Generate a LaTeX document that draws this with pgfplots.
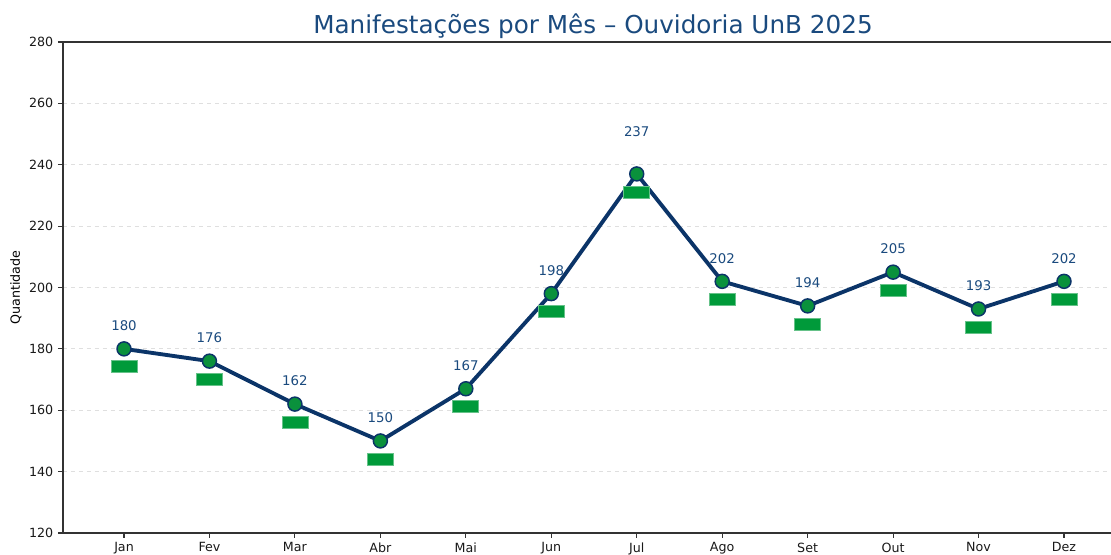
\documentclass[border=0pt]{standalone}
\usepackage{fontspec}
\setmainfont{DejaVu Sans}
\usepackage{pgfplots}
\usepackage{pgfplotstable}
\pgfplotsset{compat=1.18}
\definecolor{navy}{HTML}{0B3468}
\definecolor{ptgreen}{HTML}{0A913C}
\definecolor{boxgreen}{HTML}{009A3A}
\definecolor{ttl}{HTML}{1A4A7E}
% green tag drawn under every point
\pgfdeclareplotmark{gbox}{%
  \pgfpathrectangle{\pgfpoint{-9.75pt}{-18pt}}{\pgfpoint{19.5pt}{9pt}}%
  \pgfusepathqfillstroke}

\pgfplotstableread{
x y ly
0 180 187.5
1 176 183.5
2 162 169.5
3 150 157.5
4 167 174.5
5 198 205.5
6 237 250.7
7 202 209.5
8 194 201.5
9 205 212.5
10 193 200.5
11 202 209.5
}\dados

\begin{document}
\begin{tikzpicture}
\begin{axis}[
  scale only axis,
  width=786pt, height=368.25pt,
  xmin=-0.714, xmax=11.55,
  ymin=120, ymax=280,
  axis lines=left,
  axis line style={-, black!80, line width=0.8pt},
  tick align=outside,
  major tick length=3.75pt,
  tick style={black!80, line width=0.8pt},
  xtick={0,...,11},
  xticklabels={Jan,Fev,Mar,Abr,Mai,Jun,Jul,Ago,Set,Out,Nov,Dez},
  ytick={120,140,...,280},
  ymajorgrids,
  grid style={dashed, gray!25, line width=0.6pt},
  ticklabel style={font=\fontsize{9.5}{11}\selectfont, text=black!90},
  /pgf/number format/assume math mode=true,
  ylabel={Quantidade},
  every axis y label/.style={at={(axis description cs:0,0.5)}, anchor=center,
    rotate=90, yshift=35.25pt, font=\fontsize{9.5}{11}\selectfont},
  title={Manifestações por Mês – Ouvidoria UnB 2025},
  every axis title/.style={at={(axis description cs:0.5057,1)}, anchor=center,
    yshift=12pt, font=\fontsize{18.5}{21}\selectfont, text=ttl},
  clip=false,
]
\draw[black!80, line width=0.8pt] (rel axis cs:0,1) -- (rel axis cs:1,1);
\addplot[navy, line width=2.9pt, mark=none] table[x=x, y=y] {\dados};
\addplot[only marks, mark=gbox, mark options={fill=boxgreen, draw=boxgreen!60!white, line width=0.6pt}] table[x=x, y=y] {\dados};
\addplot[only marks, mark=*, mark size=5.25pt, mark options={fill=ptgreen, draw=navy, line width=1.1pt}] table[x=x, y=y] {\dados};
\addplot[draw=none, mark=none, nodes near coords, point meta=explicit symbolic,
  every node near coord/.style={anchor=center, text=ttl, font=\fontsize{10}{12}\selectfont}]
  table[x=x, y=ly, meta=y] {\dados};
\end{axis}
\pgfresetboundingbox
\useasboundingbox (-47.25pt,-16.5pt) rectangle (786pt,399.75pt);
\end{tikzpicture}
\end{document}
